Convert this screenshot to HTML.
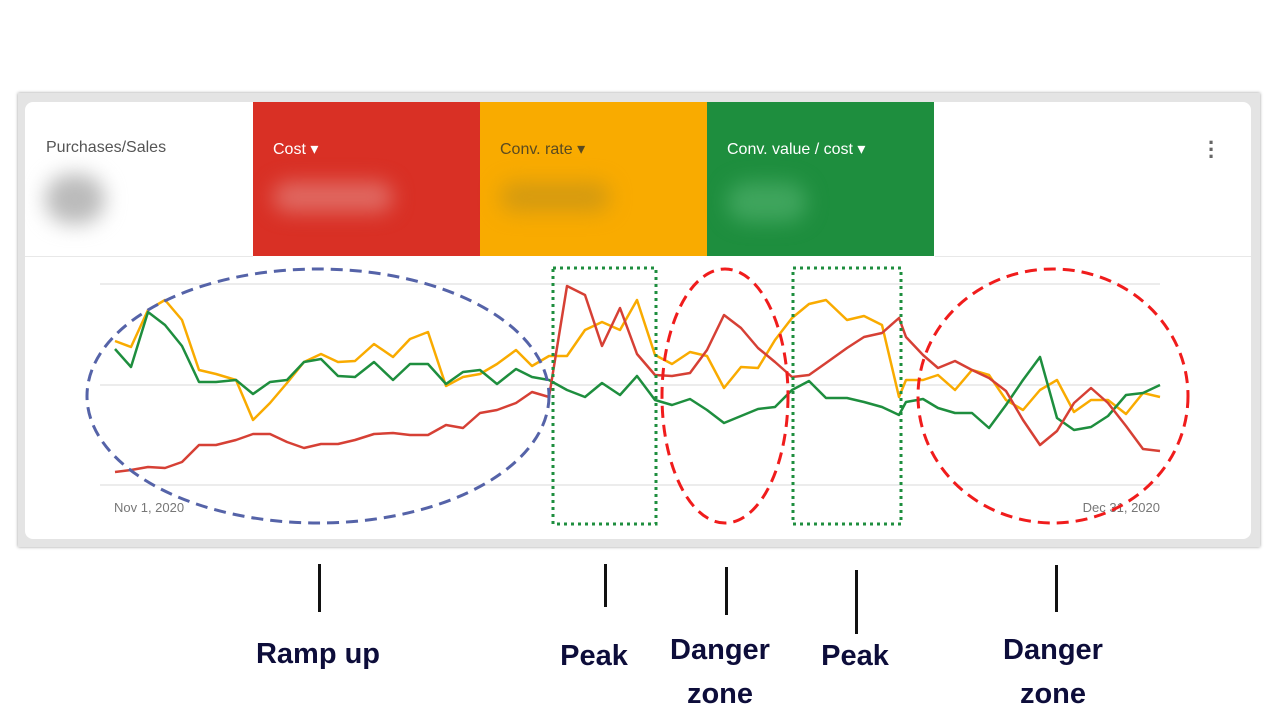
<!DOCTYPE html>
<html><head><meta charset="utf-8"><style>
body{margin:0;width:1280px;height:720px;background:#fff;position:relative;overflow:hidden;font-family:"Liberation Sans",sans-serif}
.abs{position:absolute}
.frame{left:18px;top:93px;width:1242px;height:454px;background:#e4e4e4;box-shadow:0 0 3px #999}
.card{left:25px;top:102px;width:1226px;height:437px;background:#fff;border-radius:8px;overflow:hidden}
.tile{top:0;height:154px;width:227px;color:#fff;font-size:16px}
.tile span{position:absolute;left:20px;top:37px}
.blur{position:absolute;filter:blur(10px);border-radius:30px}
.lbl{position:absolute;font-weight:bold;font-size:29px;color:#0d0d3a;text-align:center;line-height:44px}
.vl{position:absolute;width:3px;background:#111}
</style></head><body>
<div class="abs frame"></div>
<div class="abs card">
  <div class="abs" style="left:21px;top:37px;font-size:16px;color:#555">Purchases/Sales</div>
  <div class="blur" style="left:20px;top:72px;width:60px;height:50px;background:#bbb"></div>
  <div class="abs tile" style="left:228px;background:#d93025"><span>Cost ▾</span>
    <div class="blur" style="left:20px;top:80px;width:120px;height:30px;background:#e06a63"></div></div>
  <div class="abs tile" style="left:455px;background:#f9ab00;color:#5a4a20"><span>Conv. rate ▾</span>
    <div class="blur" style="left:20px;top:80px;width:110px;height:30px;background:#d49a10"></div></div>
  <div class="abs tile" style="left:682px;background:#1e8e3e"><span>Conv. value / cost ▾</span>
    <div class="blur" style="left:20px;top:80px;width:80px;height:40px;background:#3fa55d"></div></div>
  <div class="abs" style="left:0;top:154px;width:228px;height:1px;background:#e8e8e8"></div>
  <div class="abs" style="left:910px;top:154px;width:316px;height:1px;background:#e8e8e8"></div>
  <div class="abs" style="left:1183px;top:37px;color:#666;font-size:22px;line-height:7px;font-weight:bold">·<br>·<br>·</div>
</div>
<svg class="abs" style="left:0;top:0" width="1280" height="720">
<g stroke="#e6e6e6" stroke-width="1.5"><line x1="100" y1="284" x2="1160" y2="284"/><line x1="100" y1="385" x2="1160" y2="385"/><line x1="100" y1="485" x2="1160" y2="485"/></g>
<text x="114" y="512" font-size="13" fill="#777" font-family="Liberation Sans">Nov 1, 2020</text>
<text x="1160" y="512" font-size="13" fill="#777" text-anchor="end" font-family="Liberation Sans">Dec 31, 2020</text>
<g fill="none" stroke-width="2.5" stroke-linejoin="round">
<polyline stroke="#f9ab00" points="115,341 131,347 148,310 165,300 182,320 199,370 216,374 236,380 253,420 270,403 287,383 304,362 321,354 338,362 355,361 374,344 393,357 410,339 428,332 446,386 463,377 480,374 497,364 516,350 532,366 549,356 567,356 585,330 602,322 620,330 637,300 655,355 672,364 690,352 707,356 724,388 741,367 758,368 775,340 792,318 809,304 826,300 847,320 864,316 882,325 899,397 906,380 923,380 938,375 955,390 972,370 989,375 1006,400 1023,410 1040,390 1057,380 1074,412 1091,400 1108,400 1126,414 1143,393 1160,397"/>
<polyline stroke="#1e8e3e" points="115,349 131,367 148,312 165,325 182,346 199,382 216,382 236,380 253,394 270,382 287,380 304,362 321,359 338,376 355,377 374,362 393,380 410,364 428,364 446,384 463,372 480,370 497,384 516,369 532,377 549,380 567,390 585,397 602,383 620,395 637,376 655,400 672,405 690,399 707,410 724,423 741,416 758,409 775,407 792,390 809,381 826,398 847,398 864,402 882,407 899,415 906,402 923,399 938,408 955,413 972,413 989,428 1006,405 1023,380 1040,357 1057,418 1074,430 1091,427 1108,416 1126,395 1143,393 1160,385"/>
<polyline stroke="#d64035" points="115,472 131,470 148,467 165,468 182,462 199,445 216,445 236,440 253,434 270,434 287,442 304,448 321,444 338,444 355,440 374,434 393,433 410,435 428,435 446,425 463,428 480,413 497,410 516,403 532,392 549,397 567,286 585,295 602,346 620,308 637,354 655,375 672,376 690,373 707,350 724,315 741,328 758,348 775,362 792,377 809,375 826,363 847,348 864,337 882,333 899,318 906,337 923,355 938,368 955,361 972,370 989,378 1006,391 1023,420 1040,445 1057,431 1074,403 1091,388 1108,403 1126,426 1143,449 1160,451"/>
</g>
<ellipse cx="318" cy="396" rx="231" ry="127" fill="none" stroke="#5563a8" stroke-width="3" stroke-dasharray="12,7"/>
<g fill="none" stroke="#1e8e3e" stroke-width="3" stroke-dasharray="3,4">
<rect x="553" y="268" width="103" height="256"/><rect x="793" y="268" width="108" height="256"/></g>
<g fill="none" stroke="#f01c1c" stroke-width="3" stroke-dasharray="12,7">
<ellipse cx="725" cy="396" rx="63" ry="127"/><ellipse cx="1053" cy="396" rx="135" ry="127"/></g>
</svg>
<div class="vl" style="left:318px;top:564px;height:48px"></div>
<div class="vl" style="left:604px;top:564px;height:43px"></div>
<div class="vl" style="left:725px;top:567px;height:48px"></div>
<div class="vl" style="left:855px;top:570px;height:64px"></div>
<div class="vl" style="left:1055px;top:565px;height:47px"></div>
<div class="lbl" style="left:218px;top:632px;width:200px">Ramp up</div>
<div class="lbl" style="left:524px;top:634px;width:140px">Peak</div>
<div class="lbl" style="left:640px;top:628px;width:160px">Danger<br>zone</div>
<div class="lbl" style="left:785px;top:634px;width:140px">Peak</div>
<div class="lbl" style="left:973px;top:628px;width:160px">Danger<br>zone</div>
</body></html>
